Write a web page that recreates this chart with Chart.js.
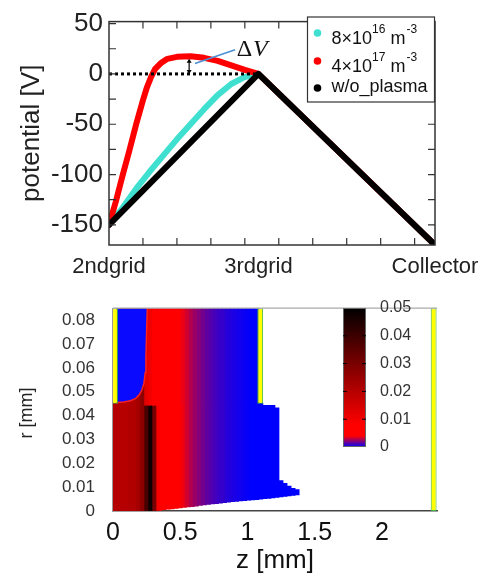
<!DOCTYPE html>
<html>
<head>
<meta charset="utf-8">
<script src="https://cdn.jsdelivr.net/npm/chart.js@4.4.1/dist/chart.umd.min.js"></script>
<style>
  html, body { margin: 0; padding: 0; background: #fff; }
  #wrap { position: relative; width: 489px; height: 576px; }
  #potCanvas { position: absolute; left: 0; top: 0; }
  #mapCanvas { position: absolute; left: 0; top: 280px; }
</style>
</head>
<body>
<div id="wrap">
  <canvas id="potCanvas" width="489" height="280"></canvas>
  <canvas id="mapCanvas" width="489" height="296"></canvas>
</div>
<script>
const FONT = "'Liberation Sans', Arial, sans-serif";

// ---- potential profile (top) ----
const zTicks = [0, 1.1, 2.4];
const zTickNames = ['2ndgrid', '3rdgrid', 'Collector'];
const vTicks = [50, 0, -50, -100, -150];
const zMinor = [0.25, 0.5, 0.75, 1.0, 1.25, 1.5, 1.75, 2.0, 2.25];
const vMinor = [50, 25, 0, -25, -50, -75, -100, -125, -150];

const zBlack = [0, 1.1, 2.4];
const vBlack = [-150, 0, -170];
const zCyan = [0, 0.1, 0.2, 0.3, 0.4, 0.5, 0.6, 0.7, 0.8, 0.9, 1.0, 1.1, 2.4];
const vCyan = [-150, -133, -114, -97, -81, -65, -50, -35, -21, -10, -3, 0, -170];
const zRed = [0, 0.05, 0.1, 0.15, 0.2, 0.25, 0.28, 0.31, 0.34, 0.38, 0.43, 0.5, 0.6, 0.7, 0.8, 0.9, 1.0, 1.1, 2.4];
const vRed = [-150, -127, -101, -76, -50, -26, -13, -3, 5, 10.5, 15, 17, 17.5, 16, 13, 8.5, 4, 0, -170];
const zZero = [0, 1.1];
const vZero = [0, 0];

const seriesBase = ['8×10', '4×10', 'w/o_plasma'];
const seriesExp = ['16', '17', ''];
const seriesColor = ['#40e0d0', '#ff0000', '#000000'];

const dvZ = 0.59, dvRange = [0, 15];
const dvLabel = { z: 0.94, v: 18 };
const dvPointer = { z: [0.633, 0.928], v: [10.4, 24] };

// ---- density map (bottom) ----
const zCol = [0.015, 0.045, 0.075, 0.105, 0.135, 0.165, 0.195, 0.225, 0.255, 0.285,
  0.315, 0.345, 0.375, 0.405, 0.435, 0.465, 0.495, 0.525, 0.555, 0.585,
  0.615, 0.645, 0.675, 0.705, 0.735, 0.765, 0.795, 0.825, 0.855, 0.885,
  0.915, 0.945, 0.975, 1.005, 1.035, 1.065, 1.095, 1.125, 1.155, 1.185,
  1.215, 1.245, 1.275, 1.305, 1.335, 1.365];
const lowVal = [0.020, 0.020, 0.020, 0.020, 0.021, 0.021, 0.023, 0.027, 0.038, 0.048,
  0.030, 0.009, 0.006, 0.006, 0.006, 0.0055, 0.0045, 0.0038, 0.0033, 0.0028,
  0.0024, 0.0021, 0.0018, 0.0015, 0.0013, 0.0011, 0.0009, 0.0008, 0.0006, 0.0005,
  0.0004, 0.0003, 0.0002, 0.0001, 0, 0, 0, 0, 0, 0,
  0, 0, 0, 0, 0, 0];
const lowBot = [0, 0, 0, 0, 0, 0, 0, 0, 0, 0,
  0.0002, 0.0005, 0.0008, 0.001, 0.0012, 0.0014, 0.0016, 0.0018, 0.002, 0.0021,
  0.0023, 0.0026, 0.0028, 0.003, 0.0032, 0.0034, 0.0036, 0.0038, 0.004, 0.0042,
  0.0043, 0.0045, 0.0046, 0.0048, 0.0049, 0.005, 0.0052, 0.0054, 0.0056, 0.0058,
  0.006, 0.0062, 0.0064, 0.0066, 0.0068, 0.007];
const lowTop = [0.045, 0.045, 0.045, 0.045, 0.045, 0.045, 0.045, 0.045, 0.045, 0.045,
  0.045, 0.045, 0.045, 0.045, 0.045, 0.045, 0.045, 0.045, 0.045, 0.045,
  0.045, 0.045, 0.045, 0.045, 0.045, 0.045, 0.045, 0.045, 0.045, 0.045,
  0.045, 0.045, 0.045, 0.045, 0.045, 0.045, 0.045, 0.044, 0.044, 0.044,
  0.043, 0.0125, 0.0113, 0.0102, 0.0092, 0.0087];
const upVal = [null, 0.020, 0.020, 0.020, 0.021, 0.021, 0.023, 0.027, 0.012, 0.010,
  0.008, 0.006, 0.005, 0.005, 0.005, 0.0048, 0.0043, 0.0037, 0.0033, 0.0028,
  0.0024, 0.0021, 0.0018, 0.0015, 0.0013, 0.0011, 0.0009, 0.0008, 0.0006, 0.0005,
  0.0004, 0.0003, 0.0002, 0.0001, 0, 0, null, null, null, null,
  null, null, null, null, null, null];
const upRange = [0.0446, 0.085];

const zPocket = [0.03, 0.08, 0.13, 0.17, 0.195, 0.215, 0.23, 0.24, 0.245, 0.25, 0.255];
const rPocket = [0.0455, 0.0457, 0.0462, 0.0472, 0.0487, 0.0507, 0.0535, 0.058, 0.065, 0.075, 0.085];

const gridZ = [0.015, 1.095, 2.385];
const gridBot = [0.045, 0.045, 0];
const gridTop = [0.085, 0.085, 0.085];

const zMapTicks = [0, 0.5, 1, 1.5, 2];
const zMapLabels = ['0', '0.5', '1', '1.5', '2'];
const rTicks = [0, 0.01, 0.02, 0.03, 0.04, 0.05, 0.06, 0.07, 0.08];
const rLabels = ['0', '0.01', '0.02', '0.03', '0.04', '0.05', '0.06', '0.07', '0.08'];
const cbTicks = [0, 0.01, 0.02, 0.03, 0.04, 0.05];
const cbLabels = ['0', '0.01', '0.02', '0.03', '0.04', '0.05'];

function mapColor(v) {
  let r, b;
  if (v <= 0.004) { const t = v / 0.004; r = 255 * t; b = 255 * (1 - t); }
  else if (v <= 0.008) { r = 255; b = 0; }
  else { r = 255 * Math.max(0, 1 - (v - 0.008) / 0.042); b = 0; }
  return `rgb(${Math.round(r)},0,${Math.round(b)})`;
}

const toXY = (xs, ys) => xs.map((x, i) => ({ x: x, y: ys[i] }));

// ---------- top chart ----------
const potDecor = {
  id: 'potDecor',
  afterDraw(chart) {
    const { ctx, chartArea: a, scales: { x, y } } = chart;
    ctx.save();
    ctx.strokeStyle = '#333';
    ctx.lineWidth = 1.5;
    ctx.strokeRect(a.left, a.top, a.right - a.left, a.bottom - a.top);
    ctx.lineWidth = 1.2;
    ctx.beginPath();
    zMinor.forEach(z => {
      const px = x.getPixelForValue(z);
      ctx.moveTo(px, a.bottom); ctx.lineTo(px, a.bottom - 7);
      ctx.moveTo(px, a.top); ctx.lineTo(px, a.top + 7);
    });
    vMinor.forEach(v => {
      const py = y.getPixelForValue(v);
      ctx.moveTo(a.left, py); ctx.lineTo(a.left + 7, py);
      ctx.moveTo(a.right, py); ctx.lineTo(a.right - 7, py);
    });
    ctx.stroke();

    // delta V arrow
    const ax = x.getPixelForValue(dvZ);
    const ay0 = y.getPixelForValue(dvRange[0]);
    const ay1 = y.getPixelForValue(dvRange[1]);
    ctx.strokeStyle = '#000';
    ctx.fillStyle = '#000';
    ctx.lineWidth = 1.2;
    ctx.beginPath();
    ctx.moveTo(ax, ay0 - 3); ctx.lineTo(ax, ay1 + 3);
    ctx.stroke();
    ctx.beginPath();
    ctx.moveTo(ax, ay1); ctx.lineTo(ax - 2.5, ay1 + 4); ctx.lineTo(ax + 2.5, ay1 + 4); ctx.closePath();
    ctx.moveTo(ax, ay0); ctx.lineTo(ax - 2.5, ay0 - 4); ctx.lineTo(ax + 2.5, ay0 - 4); ctx.closePath();
    ctx.fill();

    ctx.strokeStyle = '#4a8fd6';
    ctx.lineWidth = 1.5;
    ctx.beginPath();
    ctx.moveTo(x.getPixelForValue(dvPointer.z[0]), y.getPixelForValue(dvPointer.v[0]));
    ctx.lineTo(x.getPixelForValue(dvPointer.z[1]), y.getPixelForValue(dvPointer.v[1]));
    ctx.stroke();

    const lx = x.getPixelForValue(dvLabel.z);
    const ly = y.getPixelForValue(dvLabel.v);
    ctx.fillStyle = '#111';
    ctx.textBaseline = 'alphabetic';
    ctx.textAlign = 'left';
    ctx.font = "24px 'Liberation Serif', serif";
    ctx.fillText('Δ', lx, ly);
    const dw = ctx.measureText('Δ').width;
    ctx.font = "italic 24px 'Liberation Serif', serif";
    ctx.fillText('V', lx + dw + 1, ly);

    // legend box
    const bx = 307.5, by = 17, bw = 127, bh = 85;
    ctx.fillStyle = '#fff';
    ctx.fillRect(bx, by, bw, bh);
    ctx.strokeStyle = '#333';
    ctx.lineWidth = 1.2;
    ctx.strokeRect(bx, by, bw, bh);
    const rows = [33, 61, 88];
    seriesBase.forEach((name, i) => {
      const ry = rows[i];
      ctx.fillStyle = seriesColor[i];
      ctx.beginPath();
      ctx.arc(bx + 10, ry, 3.8, 0, Math.PI * 2);
      ctx.fill();
      ctx.fillStyle = '#111';
      ctx.textBaseline = 'middle';
      ctx.font = '18px ' + FONT;
      let tx = bx + 24;
      const ty = i < 2 ? ry + 6 : ry - 1;
      ctx.fillText(name, tx, ty);
      tx += ctx.measureText(name).width;
      if (seriesExp[i]) {
        ctx.font = '12px ' + FONT;
        ctx.fillText(seriesExp[i], tx, ty - 9);
        tx += ctx.measureText(seriesExp[i]).width + 5;
        ctx.font = '18px ' + FONT;
        ctx.fillText('m', tx, ty);
        tx += ctx.measureText('m').width + 1;
        ctx.font = '12px ' + FONT;
        ctx.fillText('-3', tx, ty - 9);
      }
    });
    ctx.restore();
  }
};

new Chart(document.getElementById('potCanvas'), {
  type: 'line',
  data: {
    datasets: [
      { label: 'zero', data: toXY(zZero, vZero), borderColor: '#000', borderWidth: 3, borderDash: [3, 3], pointRadius: 0, order: 0 },
      { label: 'w/o_plasma', data: toXY(zBlack, vBlack), borderColor: '#000', borderWidth: 6, pointRadius: 0, borderJoinStyle: 'round', borderCapStyle: 'round', order: 1 },
      { label: '4x10^17', data: toXY(zRed, vRed), borderColor: '#ff0000', borderWidth: 6, pointRadius: 0, borderJoinStyle: 'round', borderCapStyle: 'round', order: 2 },
      { label: '8x10^16', data: toXY(zCyan, vCyan), borderColor: '#40e0d0', borderWidth: 6, pointRadius: 0, borderJoinStyle: 'round', borderCapStyle: 'round', order: 3 }
    ]
  },
  options: {
    responsive: false,
    animation: false,
    layout: { padding: { left: 0, right: 54, top: 16, bottom: 0 } },
    plugins: { legend: { display: false }, tooltip: { enabled: false } },
    scales: {
      x: {
        type: 'linear', min: 0, max: 2.4,
        afterBuildTicks: s => { s.ticks = zTicks.map(v => ({ value: v })); },
        afterFit: s => { s.height = 35; },
        grid: { display: false, drawTicks: false },
        border: { display: false },
        ticks: { callback: (v, i) => zTickNames[i], font: { family: FONT, size: 22 }, color: '#222', padding: 9, maxRotation: 0, autoSkip: false }
      },
      y: {
        min: -170, max: 52,
        afterBuildTicks: s => { s.ticks = vTicks.map(v => ({ value: v })); },
        afterFit: s => { s.width = 109; },
        grid: { display: false, drawTicks: false },
        border: { display: false },
        ticks: { font: { family: FONT, size: 26 }, color: '#222', padding: 6 },
        title: { display: true, text: 'potential [V]', font: { family: FONT, size: 26 }, color: '#222', padding: { top: 16, bottom: 0 } }
      }
    }
  },
  plugins: [potDecor]
});

// ---------- bottom chart ----------
const mapDecor = {
  id: 'mapDecor',
  afterDraw(chart) {
    const { ctx, chartArea: a } = chart;
    ctx.save();
    ctx.strokeStyle = '#aaa';
    ctx.lineWidth = 1.2;
    ctx.beginPath();
    ctx.moveTo(a.left, a.top); ctx.lineTo(a.right, a.top);
    ctx.stroke();

    // colour bar
    const cx = 343, cw = 23, cTop = 28, cBot = 167;
    for (let py = cTop; py < cBot; py++) {
      const v = (cBot - py - 0.5) / (cBot - cTop) * 0.05;
      ctx.fillStyle = mapColor(v);
      ctx.fillRect(cx, py, cw, 1);
    }
    ctx.strokeStyle = '#666';
    ctx.lineWidth = 1;
    ctx.strokeRect(cx + 0.5, cTop + 0.5, cw - 1, cBot - cTop - 1);
    ctx.strokeStyle = '#000';
    ctx.beginPath();
    cbTicks.forEach(v => {
      const py = cBot - v / 0.05 * (cBot - cTop);
      if (v > 0 && v < 0.05) {
        ctx.moveTo(cx, py); ctx.lineTo(cx + 4, py);
        ctx.moveTo(cx + cw, py); ctx.lineTo(cx + cw - 4, py);
      }
    });
    ctx.stroke();
    ctx.fillStyle = '#333';
    ctx.font = '16px ' + FONT;
    ctx.textAlign = 'left';
    ctx.textBaseline = 'middle';
    cbTicks.forEach((v, i) => {
      const py = cBot - v / 0.05 * (cBot - cTop);
      ctx.fillText(cbLabels[i], 380, py);
    });

    // r axis title
    ctx.translate(27, 133);
    ctx.rotate(-Math.PI / 2);
    ctx.textAlign = 'center';
    ctx.font = '18px ' + FONT;
    ctx.fillStyle = '#222';
    ctx.fillText('r [mm]', 0, 0);
    ctx.restore();
  }
};

const lowData = zCol.map((z, i) => ({ x: z, y: [lowBot[i], lowTop[i]] }));
const upIdx = zCol.map((z, i) => i).filter(i => upVal[i] !== null);
const upData = upIdx.map(i => ({ x: zCol[i], y: upRange }));

new Chart(document.getElementById('mapCanvas'), {
  type: 'bar',
  data: {
    datasets: [
      {
        label: 'grids', data: gridZ.map((z, i) => ({ x: z, y: [gridBot[i], gridTop[i]] })),
        backgroundColor: '#ffff00', borderColor: '#3cb043', borderWidth: 1, borderSkipped: false,
        barPercentage: 1.45, categoryPercentage: 1, grouped: false, order: 0
      },
      {
        type: 'line', label: 'pocket', data: toXY(zPocket, rPocket), fill: 'end',
        backgroundColor: '#0a0aff', borderColor: '#ff2020', borderWidth: 1.5, pointRadius: 0, order: 1
      },
      {
        label: 'upper', data: upData, backgroundColor: upIdx.map(i => mapColor(upVal[i])),
        borderWidth: 0, inflateAmount: 1,
        barPercentage: 1, categoryPercentage: 1, grouped: false, order: 2
      },
      {
        label: 'lower', data: lowData, backgroundColor: lowVal.map(mapColor),
        borderWidth: 0, inflateAmount: 1,
        barPercentage: 1, categoryPercentage: 1, grouped: false, order: 3
      }
    ]
  },
  options: {
    responsive: false,
    animation: false,
    layout: { padding: { left: 0, right: 52, top: 11, bottom: 0 } },
    plugins: { legend: { display: false }, tooltip: { enabled: false } },
    scales: {
      x: {
        type: 'linear', min: 0, max: 2.41, offset: false,
        afterBuildTicks: s => { s.ticks = zMapTicks.map(v => ({ value: v })); },
        afterFit: s => { s.height = 65; },
        grid: { display: false, drawTicks: false, offset: false },
        border: { display: true, color: '#444', width: 1.5 },
        ticks: { callback: (v, i) => zMapLabels[i], font: { family: FONT, size: 25 }, color: '#111', padding: 7, maxRotation: 0, autoSkip: false },
        title: { display: true, text: 'z [mm]', font: { family: FONT, size: 26 }, color: '#111', padding: 0 }
      },
      y: {
        min: 0, max: 0.085,
        afterBuildTicks: s => { s.ticks = rTicks.map(v => ({ value: v })); },
        afterFit: s => { s.width = 113; },
        grid: { display: false, drawTicks: false },
        border: { display: true, color: '#999', width: 1.2 },
        ticks: { callback: (v, i) => rLabels[i], font: { family: FONT, size: 17 }, color: '#333', padding: 18 }
      }
    }
  },
  plugins: [mapDecor]
});
</script>
</body>
</html>
